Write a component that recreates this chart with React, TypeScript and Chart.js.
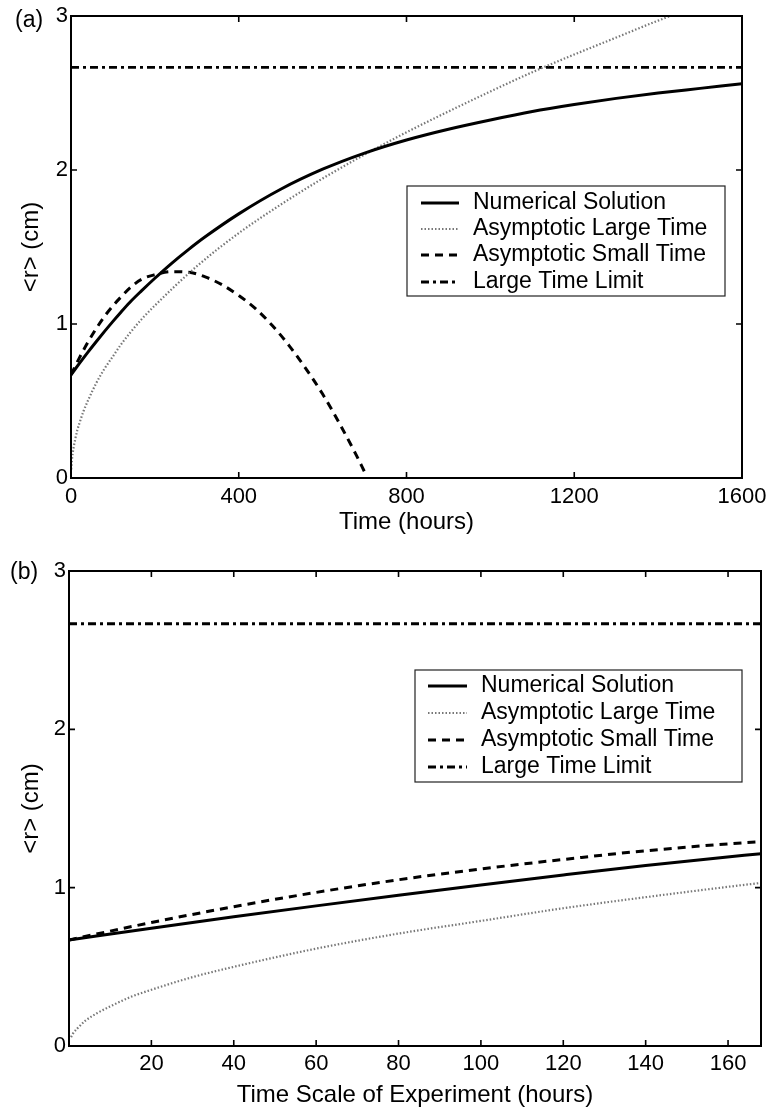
import React, { useEffect, useRef } from 'react';
import { Chart, registerables } from 'chart.js';
Chart.register(...registerables);

const FONT = '"Liberation Sans", Arial, Helvetica, sans-serif';

// Numerical solution <r>(t)
const NUM_T = [0, 20, 40, 60, 80, 100, 120, 140, 168, 200, 240, 280, 320, 400, 500, 600, 700, 800, 900, 1000, 1100, 1200, 1300, 1400, 1500, 1600];
const NUM_R = [0.67, 0.744, 0.816, 0.885, 0.952, 1.017, 1.08, 1.14, 1.215, 1.297, 1.394, 1.483, 1.566, 1.715, 1.875, 2.005, 2.11, 2.195, 2.265, 2.325, 2.38, 2.425, 2.465, 2.50, 2.53, 2.56];

// Asymptotic large time
const LARGE_T = [0.5, 1, 2, 4, 7, 10, 15, 20, 30, 40, 60, 80, 100, 120, 140, 168, 200, 300, 400, 500, 600, 700, 800, 900, 1000, 1100, 1200, 1300, 1400, 1460];
const LARGE_R = [0.056, 0.08, 0.11, 0.16, 0.21, 0.25, 0.31, 0.355, 0.435, 0.50, 0.615, 0.71, 0.79, 0.87, 0.94, 1.03, 1.12, 1.375, 1.59, 1.775, 1.945, 2.10, 2.245, 2.38, 2.51, 2.635, 2.75, 2.86, 2.97, 3.03];

// Asymptotic small time
const SMALL_T = [0, 20, 40, 60, 80, 100, 120, 140, 168, 200, 240, 280, 320, 360, 400, 440, 480, 520, 560, 600, 640, 680, 700];
const SMALL_R = [0.67, 0.78, 0.88, 0.97, 1.05, 1.118, 1.178, 1.233, 1.29, 1.32, 1.34, 1.336, 1.306, 1.255, 1.185, 1.10, 0.99, 0.86, 0.71, 0.545, 0.355, 0.15, 0.04];

// Large time limit
const LIMIT_T = [0, 1600];
const LIMIT_R = [2.667, 2.667];

const SERIES_LABELS = ['Numerical Solution', 'Asymptotic Large Time', 'Asymptotic Small Time', 'Large Time Limit'];
const X_TICKS_A = [0, 400, 800, 1200, 1600];
const X_TICKS_B = [20, 40, 60, 80, 100, 120, 140, 160];
const Y_TICKS = [0, 1, 2, 3];

const pts = (t: number[], r: number[]) => t.map((x, i) => ({ x, y: r[i] }));

function makeDatasets() {
  return [
    { label: SERIES_LABELS[0], data: pts(NUM_T, NUM_R), borderColor: '#000', borderWidth: 3, borderDash: [] as number[] },
    { label: SERIES_LABELS[1], data: pts(LARGE_T, LARGE_R), borderColor: '#777777', borderWidth: 2.2, borderDash: [1.5, 2] },
    { label: SERIES_LABELS[2], data: pts(SMALL_T, SMALL_R), borderColor: '#000', borderWidth: 3, borderDash: [8, 6] },
    { label: SERIES_LABELS[3], data: pts(LIMIT_T, LIMIT_R), borderColor: '#000', borderWidth: 2.8, borderDash: [8, 4, 3, 4] },
  ].map((d) => ({ ...d, pointRadius: 0, fill: false, cubicInterpolationMode: 'monotone' as const }));
}

type PanelCfg = {
  height: number;
  xMin: number;
  xMax: number;
  xTicks: number[];
  xTitle: string;
  padTop: number;
  padRight: number;
  yWidth: number;
  xHeight: number;
  xTitlePadBottom: number;
  xTickPad: number;
  panel: { text: string; x: number; y: number };
  legend: { left: number; top: number; right: number; bottom: number; rows: number[]; s0: number; s1: number; tx: number };
};

function framePlugin(cfg: PanelCfg) {
  return {
    id: 'frame',
    afterDatasetsDraw(chart: any) {
      const { ctx, chartArea: a, scales } = chart;
      ctx.save();
      ctx.setLineDash([]);
      ctx.strokeStyle = '#000';
      ctx.lineWidth = 1.6;
      const tl = 6;
      ctx.beginPath();
      for (const t of scales.x.ticks) {
        const p = scales.x.getPixelForValue(t.value);
        ctx.moveTo(p, a.bottom); ctx.lineTo(p, a.bottom - tl);
        ctx.moveTo(p, a.top); ctx.lineTo(p, a.top + tl);
      }
      for (const t of scales.y.ticks) {
        const p = scales.y.getPixelForValue(t.value);
        ctx.moveTo(a.left, p); ctx.lineTo(a.left + tl, p);
        ctx.moveTo(a.right, p); ctx.lineTo(a.right - tl, p);
      }
      ctx.stroke();
      ctx.lineWidth = 2;
      ctx.strokeRect(a.left, a.top, a.right - a.left, a.bottom - a.top);

      // legend
      const L = cfg.legend;
      ctx.fillStyle = '#fff';
      ctx.fillRect(L.left, L.top, L.right - L.left, L.bottom - L.top);
      ctx.lineWidth = 1.2;
      ctx.strokeStyle = '#222';
      ctx.strokeRect(L.left, L.top, L.right - L.left, L.bottom - L.top);
      chart.data.datasets.forEach((ds: any, i: number) => {
        const y = L.rows[i];
        ctx.save();
        ctx.strokeStyle = ds.borderColor;
        ctx.lineWidth = ds.borderWidth;
        ctx.setLineDash(ds.borderDash || []);
        ctx.beginPath();
        ctx.moveTo(L.s0, y);
        ctx.lineTo(L.s1, y);
        ctx.stroke();
        ctx.restore();
        ctx.fillStyle = '#000';
        ctx.font = `23px ${FONT}`;
        ctx.textBaseline = 'middle';
        ctx.textAlign = 'left';
        ctx.fillText(ds.label, L.tx, y);
      });

      // panel label
      ctx.fillStyle = '#000';
      ctx.font = `23px ${FONT}`;
      ctx.textBaseline = 'middle';
      ctx.textAlign = 'left';
      ctx.fillText(cfg.panel.text, cfg.panel.x, cfg.panel.y);
      ctx.restore();
    },
  };
}

function buildChart(canvas: HTMLCanvasElement, cfg: PanelCfg) {
  return new Chart(canvas, {
    type: 'line',
    data: { datasets: makeDatasets() as any },
    options: {
      animation: false,
      responsive: false,
      events: [],
      layout: { padding: { top: cfg.padTop, right: cfg.padRight, left: 0, bottom: 0 } },
      plugins: { legend: { display: false }, tooltip: { enabled: false } },
      scales: {
        x: {
          type: 'linear',
          min: cfg.xMin,
          max: cfg.xMax,
          afterBuildTicks: (s: any) => { s.ticks = cfg.xTicks.map((v) => ({ value: v })); },
          afterFit: (s: any) => {
            s.height = cfg.xHeight;
            s.paddingLeft = 0;
            s.paddingRight = 0;
          },
          grid: { display: false, drawTicks: false },
          border: { display: false },
          ticks: {
            color: '#000',
            font: { family: FONT, size: 22 },
            padding: cfg.xTickPad,
            maxRotation: 0,
            autoSkip: false,
            callback: (v: any) => String(v),
          },
          title: { display: true, text: cfg.xTitle, color: '#000', font: { family: FONT, size: 24 }, padding: { top: 0, bottom: cfg.xTitlePadBottom } },
        },
        y: {
          type: 'linear',
          min: 0,
          max: 3,
          afterBuildTicks: (s: any) => { s.ticks = Y_TICKS.map((v) => ({ value: v })); },
          afterFit: (s: any) => {
            s.width = cfg.yWidth;
            s.paddingTop = 0;
            s.paddingBottom = 0;
          },
          grid: { display: false, drawTicks: false },
          border: { display: false },
          ticks: { color: '#000', font: { family: FONT, size: 22 }, padding: 3, callback: (v: any) => String(v) },
          title: { display: true, text: '<r> (cm)', color: '#000', font: { family: FONT, size: 24 }, padding: { top: 17, bottom: 0 } },
        },
      },
    } as any,
    plugins: [framePlugin(cfg)],
  });
}

const CFG_A: PanelCfg = {
  height: 545,
  xMin: 0,
  xMax: 1600,
  xTicks: X_TICKS_A,
  xTitle: 'Time (hours)',
  padTop: 16,
  padRight: 27,
  yWidth: 71,
  xHeight: 67,
  xTitlePadBottom: 8.6,
  xTickPad: 6,
  panel: { text: '(a)', x: 15, y: 21 },
  legend: { left: 407, top: 186, right: 725, bottom: 296, rows: [203, 229, 255, 282], s0: 421, s1: 459, tx: 473 },
};

const CFG_B: PanelCfg = {
  height: 566,
  xMin: 0,
  xMax: 168,
  xTicks: X_TICKS_B,
  xTitle: 'Time Scale of Experiment (hours)',
  padTop: 26,
  padRight: 8,
  yWidth: 69,
  xHeight: 65,
  xTitlePadBottom: 1.6,
  xTickPad: 5,
  panel: { text: '(b)', x: 10, y: 28 },
  legend: { left: 415, top: 125, right: 742, bottom: 237, rows: [141, 168, 195, 222], s0: 428, s1: 467, tx: 481 },
};

function Panel({ cfg, top }: { cfg: PanelCfg; top: number }) {
  const ref = useRef<HTMLCanvasElement>(null);
  useEffect(() => {
    if (!ref.current) return;
    const c = buildChart(ref.current, cfg);
    return () => c.destroy();
  }, [cfg]);
  return (
    <canvas
      ref={ref}
      width={769}
      height={cfg.height}
      style={{ position: 'absolute', left: 0, top, width: 769, height: cfg.height, display: 'block' }}
    />
  );
}

export default function App() {
  return (
    <div style={{ position: 'absolute', left: 0, top: 0, width: 769, height: 1111, background: '#fff' }}>
      <Panel cfg={CFG_A} top={0} />
      <Panel cfg={CFG_B} top={545} />
    </div>
  );
}
